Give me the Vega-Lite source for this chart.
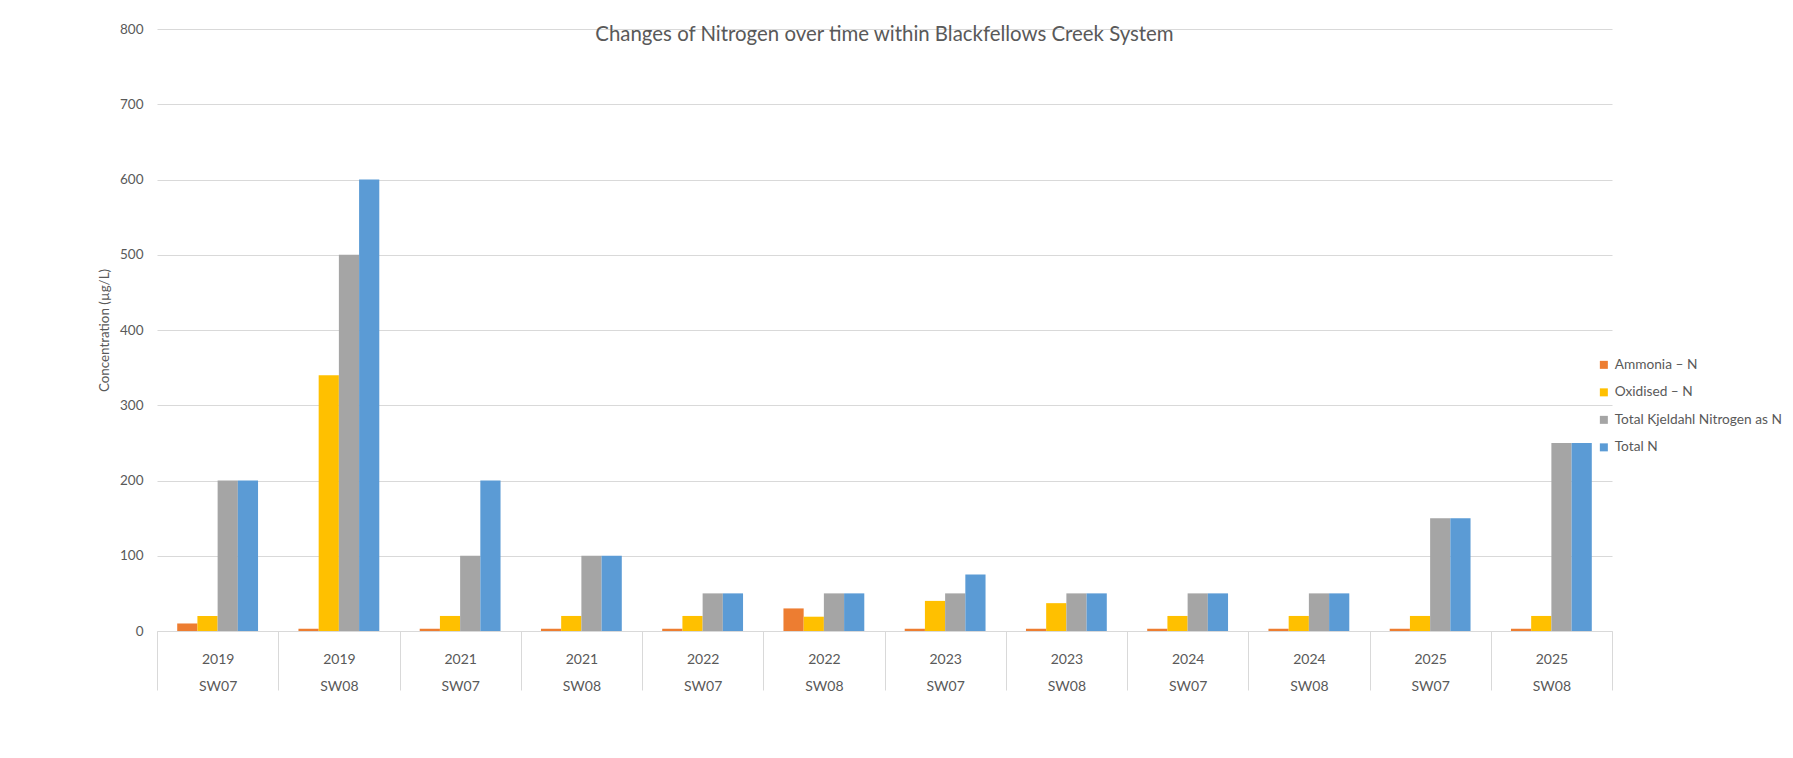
{
  "$schema": "https://vega.github.io/schema/vega-lite/v6.json",
  "width": 1455,
  "height": 602,
  "autosize": {"type": "none"},
  "padding": {"left": 157, "top": 29, "right": 181, "bottom": 127},
  "background": "white",
  "title": {
    "text": "Changes of Nitrogen over time within Blackfellows Creek System",
    "frame": "group",
    "anchor": "middle",
    "baseline": "alphabetic",
    "offset": -39.5,
    "font": "Lato",
    "fontSize": 20.4,
    "fontWeight": "normal",
    "color": "#595959"
  },
  "config": {"view": {"stroke": null}, "font": "Lato"},
  "data": {
    "values": [
      {"cat": "2019|SW07", "series": "Ammonia – N", "value": 10},
      {"cat": "2019|SW07", "series": "Oxidised – N", "value": 20},
      {"cat": "2019|SW07", "series": "Total Kjeldahl Nitrogen as N", "value": 200},
      {"cat": "2019|SW07", "series": "Total N", "value": 200},
      {"cat": "2019|SW08", "series": "Ammonia – N", "value": 3},
      {"cat": "2019|SW08", "series": "Oxidised – N", "value": 340},
      {"cat": "2019|SW08", "series": "Total Kjeldahl Nitrogen as N", "value": 500},
      {"cat": "2019|SW08", "series": "Total N", "value": 600},
      {"cat": "2021|SW07", "series": "Ammonia – N", "value": 3},
      {"cat": "2021|SW07", "series": "Oxidised – N", "value": 20},
      {"cat": "2021|SW07", "series": "Total Kjeldahl Nitrogen as N", "value": 100},
      {"cat": "2021|SW07", "series": "Total N", "value": 200},
      {"cat": "2021|SW08", "series": "Ammonia – N", "value": 3},
      {"cat": "2021|SW08", "series": "Oxidised – N", "value": 20},
      {"cat": "2021|SW08", "series": "Total Kjeldahl Nitrogen as N", "value": 100},
      {"cat": "2021|SW08", "series": "Total N", "value": 100},
      {"cat": "2022|SW07", "series": "Ammonia – N", "value": 3},
      {"cat": "2022|SW07", "series": "Oxidised – N", "value": 20},
      {"cat": "2022|SW07", "series": "Total Kjeldahl Nitrogen as N", "value": 50},
      {"cat": "2022|SW07", "series": "Total N", "value": 50},
      {"cat": "2022|SW08", "series": "Ammonia – N", "value": 30},
      {"cat": "2022|SW08", "series": "Oxidised – N", "value": 19},
      {"cat": "2022|SW08", "series": "Total Kjeldahl Nitrogen as N", "value": 50},
      {"cat": "2022|SW08", "series": "Total N", "value": 50},
      {"cat": "2023|SW07", "series": "Ammonia – N", "value": 3},
      {"cat": "2023|SW07", "series": "Oxidised – N", "value": 40},
      {"cat": "2023|SW07", "series": "Total Kjeldahl Nitrogen as N", "value": 50},
      {"cat": "2023|SW07", "series": "Total N", "value": 75},
      {"cat": "2023|SW08", "series": "Ammonia – N", "value": 3},
      {"cat": "2023|SW08", "series": "Oxidised – N", "value": 37},
      {"cat": "2023|SW08", "series": "Total Kjeldahl Nitrogen as N", "value": 50},
      {"cat": "2023|SW08", "series": "Total N", "value": 50},
      {"cat": "2024|SW07", "series": "Ammonia – N", "value": 3},
      {"cat": "2024|SW07", "series": "Oxidised – N", "value": 20},
      {"cat": "2024|SW07", "series": "Total Kjeldahl Nitrogen as N", "value": 50},
      {"cat": "2024|SW07", "series": "Total N", "value": 50},
      {"cat": "2024|SW08", "series": "Ammonia – N", "value": 3},
      {"cat": "2024|SW08", "series": "Oxidised – N", "value": 20},
      {"cat": "2024|SW08", "series": "Total Kjeldahl Nitrogen as N", "value": 50},
      {"cat": "2024|SW08", "series": "Total N", "value": 50},
      {"cat": "2025|SW07", "series": "Ammonia – N", "value": 3},
      {"cat": "2025|SW07", "series": "Oxidised – N", "value": 20},
      {"cat": "2025|SW07", "series": "Total Kjeldahl Nitrogen as N", "value": 150},
      {"cat": "2025|SW07", "series": "Total N", "value": 150},
      {"cat": "2025|SW08", "series": "Ammonia – N", "value": 3},
      {"cat": "2025|SW08", "series": "Oxidised – N", "value": 20},
      {"cat": "2025|SW08", "series": "Total Kjeldahl Nitrogen as N", "value": 250},
      {"cat": "2025|SW08", "series": "Total N", "value": 250}
    ]
  },
  "mark": {"type": "bar"},
  "encoding": {
    "x": {
      "field": "cat",
      "type": "nominal",
      "sort": ["2019|SW07", "2019|SW08", "2021|SW07", "2021|SW08", "2022|SW07", "2022|SW08", "2023|SW07", "2023|SW08", "2024|SW07", "2024|SW08", "2025|SW07", "2025|SW08"],
      "scale": {"paddingInner": 0, "paddingOuter": 0},
      "axis": {
        "title": null,
        "labelExpr": "datum.value ? split(datum.value, '|') : ''",
        "labelAngle": 0,
        "labelBaseline": "top",
        "labelLineHeight": 27,
        "labelPadding": -38,
        "tickSize": 59,
        "tickBand": "extent",
        "tickColor": "#D9D9D9",
        "domainColor": "#D9D9D9",
        "labelColor": "#595959",
        "labelFontSize": 14,
        "labelFont": "Lato",
        "grid": false
      }
    },
    "xOffset": {
      "field": "series",
      "type": "nominal",
      "sort": ["Ammonia – N", "Oxidised – N", "Total Kjeldahl Nitrogen as N", "Total N"],
      "scale": {"paddingInner": 0, "paddingOuter": 1.56}
    },
    "y": {
      "field": "value",
      "type": "quantitative",
      "scale": {"domain": [0, 800]},
      "axis": {
        "title": "Concentration (µg/L)",
        "values": [0, 100, 200, 300, 400, 500, 600, 700, 800],
        "grid": true,
        "gridColor": "#D9D9D9",
        "domain": false,
        "ticks": false,
        "labelPadding": 14,
        "labelColor": "#595959",
        "labelFontSize": 13.5,
        "labelFont": "Lato",
        "titleColor": "#595959",
        "titleFontSize": 13.4,
        "titleFont": "Lato",
        "titleFontWeight": "normal",
        "titlePadding": 8
      }
    },
    "color": {
      "field": "series",
      "type": "nominal",
      "scale": {
        "domain": ["Ammonia – N", "Oxidised – N", "Total Kjeldahl Nitrogen as N", "Total N"],
        "range": ["#ED7D31", "#FFC000", "#A5A5A5", "#5B9BD5"]
      },
      "legend": {
        "title": null,
        "orient": "none",
        "legendX": 1440,
        "legendY": 329,
        "symbolType": "square",
        "symbolSize": 64,
        "symbolStrokeWidth": 0,
        "labelFontSize": 13.7,
        "labelFont": "Lato",
        "labelColor": "#595959",
        "labelLimit": 400,
        "rowPadding": 12.5
      }
    }
  }
}
